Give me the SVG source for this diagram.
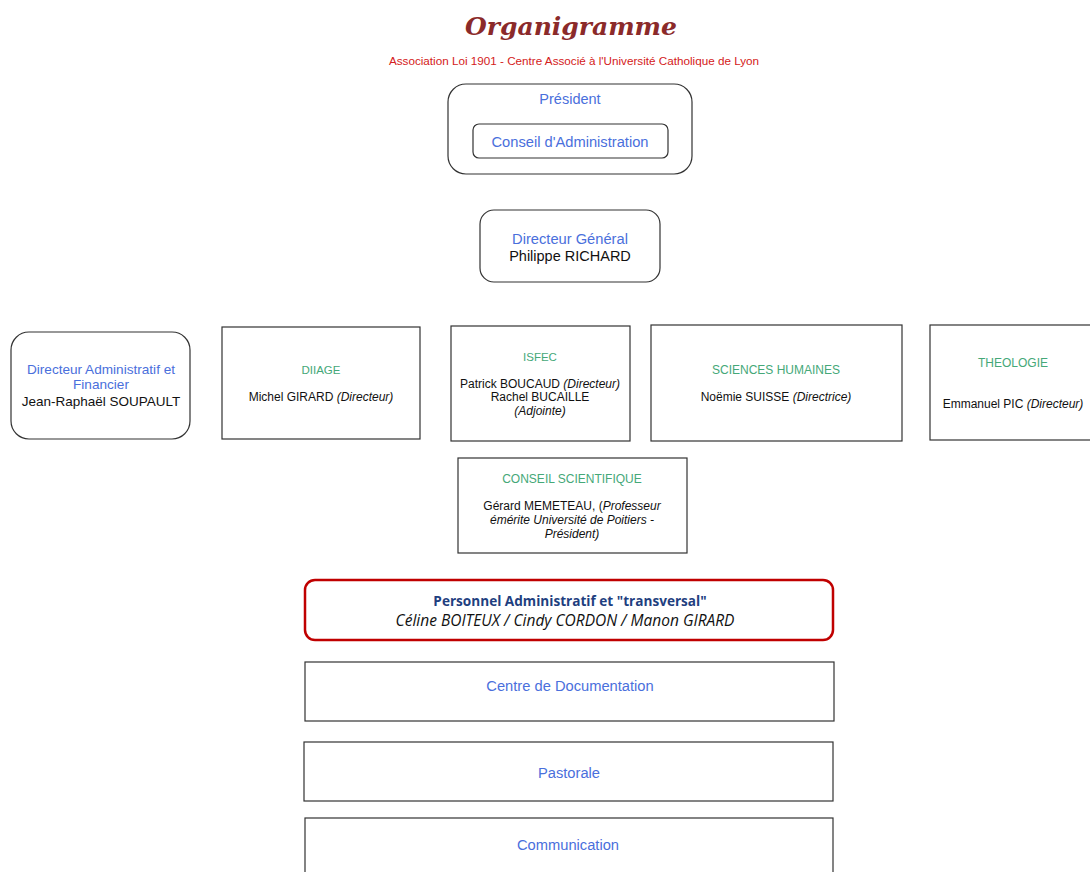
<svg xmlns="http://www.w3.org/2000/svg" width="1090" height="872" viewBox="0 0 1090 872">
<style>
.box{fill:#fff;stroke:#333;stroke-width:1.2}
.t{font-family:"Liberation Sans",Arial,sans-serif;text-anchor:middle}
.blue{fill:#4a6fdc}
.green{fill:#45a878}
.blk{fill:#111}
.it{font-style:italic}
</style>
<rect width="1090" height="872" fill="#fff"/>
<text x="571" y="35" class="t" style="font-family:'DejaVu Serif',serif;font-style:italic;font-weight:bold;font-size:25px;fill:#8b2a2a">Organigramme</text>
<text x="574" y="65" class="t" style="font-size:11.7px;fill:#d42020">Association Loi 1901 - Centre Associé à l'Université Catholique de Lyon</text>
<g id="president">
<rect class="box" x="448" y="84" width="244" height="90" rx="18"/>
<text x="570" y="104" class="t blue" font-size="14.5">Président</text>
</g>
<g id="conseil-admin">
<rect class="box" x="473" y="124" width="195" height="34" rx="6"/>
<text x="570" y="147" class="t blue" font-size="14.7">Conseil d'Administration</text>
</g>
<g id="dg">
<rect class="box" x="480" y="210" width="180" height="72" rx="14"/>
<text x="570" y="244" class="t blue" font-size="14.7">Directeur Général</text>
<text x="570" y="261" class="t blk" font-size="14.5">Philippe RICHARD</text>
</g>
<g id="daf">
<rect class="box" x="11" y="332" width="179" height="107" rx="18"/>
<text x="101" y="374" class="t blue" font-size="13.6">Directeur Administratif et</text>
<text x="101" y="389" class="t blue" font-size="13.6">Financier</text>
<text x="101" y="406" class="t blk" font-size="13.5">Jean-Raphaël SOUPAULT</text>
</g>
<g id="diiage">
<rect class="box" x="222" y="327" width="198" height="112"/>
<text x="321" y="374" class="t green" font-size="11.5">DIIAGE</text>
<text x="321" y="401" class="t blk" font-size="12">Michel GIRARD  <tspan class="it">(Directeur)</tspan></text>
</g>
<g id="isfec">
<rect class="box" x="451" y="326" width="179" height="115"/>
<text x="540" y="361" class="t green" font-size="11.5">ISFEC</text>
<text x="540" y="388" class="t blk" font-size="12">Patrick BOUCAUD  <tspan class="it">(Directeur)</tspan></text>
<text x="540" y="401" class="t blk" font-size="12">Rachel BUCAILLE</text>
<text x="540" y="415" class="t blk it" font-size="12">(Adjointe)</text>
</g>
<g id="sciences-humaines">
<rect class="box" x="651" y="325" width="251" height="116"/>
<text x="776" y="374" class="t green" font-size="12">SCIENCES HUMAINES</text>
<text x="776" y="401" class="t blk" font-size="12">Noëmie SUISSE <tspan class="it">(Directrice)</tspan></text>
</g>
<g id="theologie">
<rect class="box" x="930" y="325" width="170" height="115"/>
<text x="1013" y="367" class="t green" font-size="12">THEOLOGIE</text>
<text x="1013" y="408" class="t blk" font-size="12">Emmanuel PIC <tspan class="it">(Directeur)</tspan></text>
</g>
<g id="conseil-scientifique">
<rect class="box" x="458" y="458" width="229" height="95"/>
<text x="572" y="483" class="t green" font-size="12">CONSEIL SCIENTIFIQUE</text>
<text x="572" y="510" class="t blk" font-size="12">Gérard MEMETEAU, (<tspan class="it">Professeur</tspan></text>
<text x="572" y="524" class="t blk it" font-size="12">émérite Université de Poitiers -</text>
<text x="572" y="538" class="t blk it" font-size="12">Président)</text>
</g>
<g id="personnel">
<rect x="305" y="580" width="528" height="60" rx="10" fill="#fff" stroke="#c00000" stroke-width="2.5"/>
<text x="570" y="606" class="t" style="font-family:'Open Sans',sans-serif;font-weight:bold;font-size:13.6px;fill:#1f3f7f">Personnel Administratif et "transversal"</text>
<text x="565" y="626" class="t it" style="font-family:'Open Sans',sans-serif;font-size:15.5px;fill:#111">Céline BOITEUX / Cindy CORDON / Manon GIRARD</text>
</g>
<g id="documentation">
<rect class="box" x="305" y="662" width="529" height="59"/>
<text x="570" y="691" class="t blue" font-size="14.7">Centre de Documentation</text>
</g>
<g id="pastorale">
<rect class="box" x="304" y="742" width="529" height="59"/>
<text x="569" y="778" class="t blue" font-size="14.7">Pastorale</text>
</g>
<g id="communication">
<rect class="box" x="305" y="818" width="528" height="70"/>
<text x="568" y="850" class="t blue" font-size="14.7">Communication</text>
</g>
<g id="connectors"></g>
</svg>
